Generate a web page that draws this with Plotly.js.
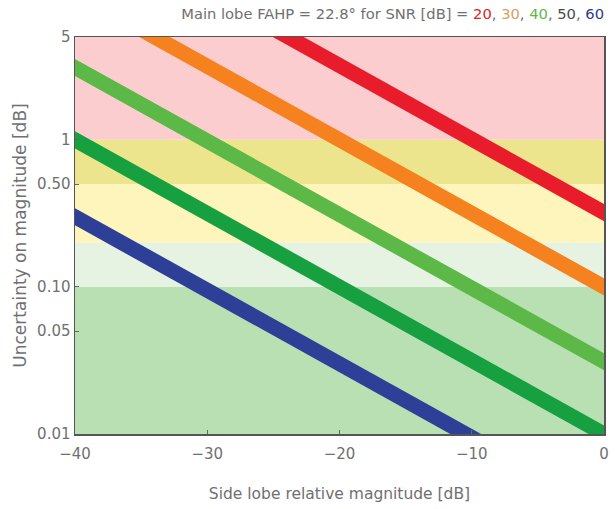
<!DOCTYPE html>
<html>
<head>
<meta charset="utf-8">
<script src="https://cdn.plot.ly/plotly-3.0.1.min.js"></script>
<style>
html, body { margin: 0; padding: 0; background: #ffffff; }
#chart { width: 616px; height: 509px; }
.scatterlayer .js-line { stroke-linecap: square; }
</style>
</head>
<body>
<div id="chart"></div>
<script>
// Side lobe relative magnitude [dB] (x) and uncertainty on magnitude [dB] (y)
const sideLobeDb = [-40, 0];
const snrLabels = ['20', '30', '40', '50', '60'];
const snr20 = [32, 0.32];
const snr30 = [10, 0.10];
const snr40 = [3.1, 0.031];
const snr50 = [1.0, 0.010];
const snr60 = [0.30, 0.0030];
const lineColors = ['#e81c2a', '#f5821f', '#5cb947', '#16a03f', '#2e3f98'];

// Background bands (uncertainty levels)
const bandEdges = [5, 1, 0.5, 0.2, 0.1, 0.01];
const bandColors = ['#fccdcf', '#ece58e', '#fdf5bb', '#e6f2e2', '#b8e0b2'];

// Axis ticks
const yTickVals = [5, 1, 0.5, 0.1, 0.05, 0.01];
const yTickText = ['5', '1', '0.50', '0.10', '0.05', '0.01'];
const xTickVals = [-40, -30, -20, -10, 0];

const seriesY = [snr20, snr30, snr40, snr50, snr60];
const traces = seriesY.map((ys, i) => ({
  type: 'scatter',
  mode: 'lines',
  x: sideLobeDb,
  y: ys,
  name: 'SNR ' + snrLabels[i] + ' dB',
  line: { color: lineColors[i], width: 15 },
  hoverinfo: 'skip',
  showlegend: false
}));

const shapes = [];
for (let i = 0; i < bandColors.length; i++) {
  shapes.push({
    type: 'rect', layer: 'below', xref: 'paper', yref: 'y',
    x0: 0, x1: 1, y0: bandEdges[i + 1], y1: bandEdges[i],
    fillcolor: bandColors[i], line: { width: 0 }
  });
}

const titleColors = ['#d9232a', '#d9a060', '#5cb947', '#4a4a4a', '#2b3990'];
const titleText = 'Main lobe FAHP = 22.8° for SNR [dB] = ' +
  snrLabels.map((s, i) => '<span style="color:' + titleColors[i] + '">' + s + '</span>').join(', ');

const fontFam = 'DejaVu Sans, sans-serif';
const layout = {
  width: 616, height: 509,
  margin: { l: 75, r: 12, t: 37, b: 75 },
  paper_bgcolor: '#ffffff',
  plot_bgcolor: '#ffffff',
  font: { family: fontFam, color: '#707070', size: 14 },
  title: {
    text: titleText,
    font: { family: fontFam, size: 14.7, color: '#707070' },
    xref: 'paper', x: 1, xanchor: 'right',
    yref: 'container', y: 0.972, yanchor: 'middle'
  },
  xaxis: {
    range: [-40, 0],
    tickvals: xTickVals,
    ticks: 'inside', ticklen: 4, tickcolor: '#666',
    ticklabelstandoff: 5,
    showgrid: false, zeroline: false,
    showline: true, mirror: true, linecolor: '#555', linewidth: 1.5,
    tickfont: { size: 15, color: '#707070' },
    title: { text: 'Side lobe relative magnitude [dB]', font: { size: 15.5, color: '#707070' }, standoff: 26 }
  },
  yaxis: {
    type: 'log',
    range: [Math.log10(0.01), Math.log10(5)],
    tickvals: yTickVals, ticktext: yTickText,
    ticks: 'inside', ticklen: 4, tickcolor: '#666',
    showgrid: false, zeroline: false,
    showline: true, mirror: true, linecolor: '#555', linewidth: 1.5,
    tickfont: { size: 15, color: '#707070' },
    title: { text: 'Uncertainty on magnitude [dB]', font: { size: 17, color: '#707070' }, standoff: 6 }
  },
  shapes: shapes,
  showlegend: false
};

Plotly.newPlot('chart', traces, layout, { staticPlot: true, displayModeBar: false });
</script>
</body>
</html>
